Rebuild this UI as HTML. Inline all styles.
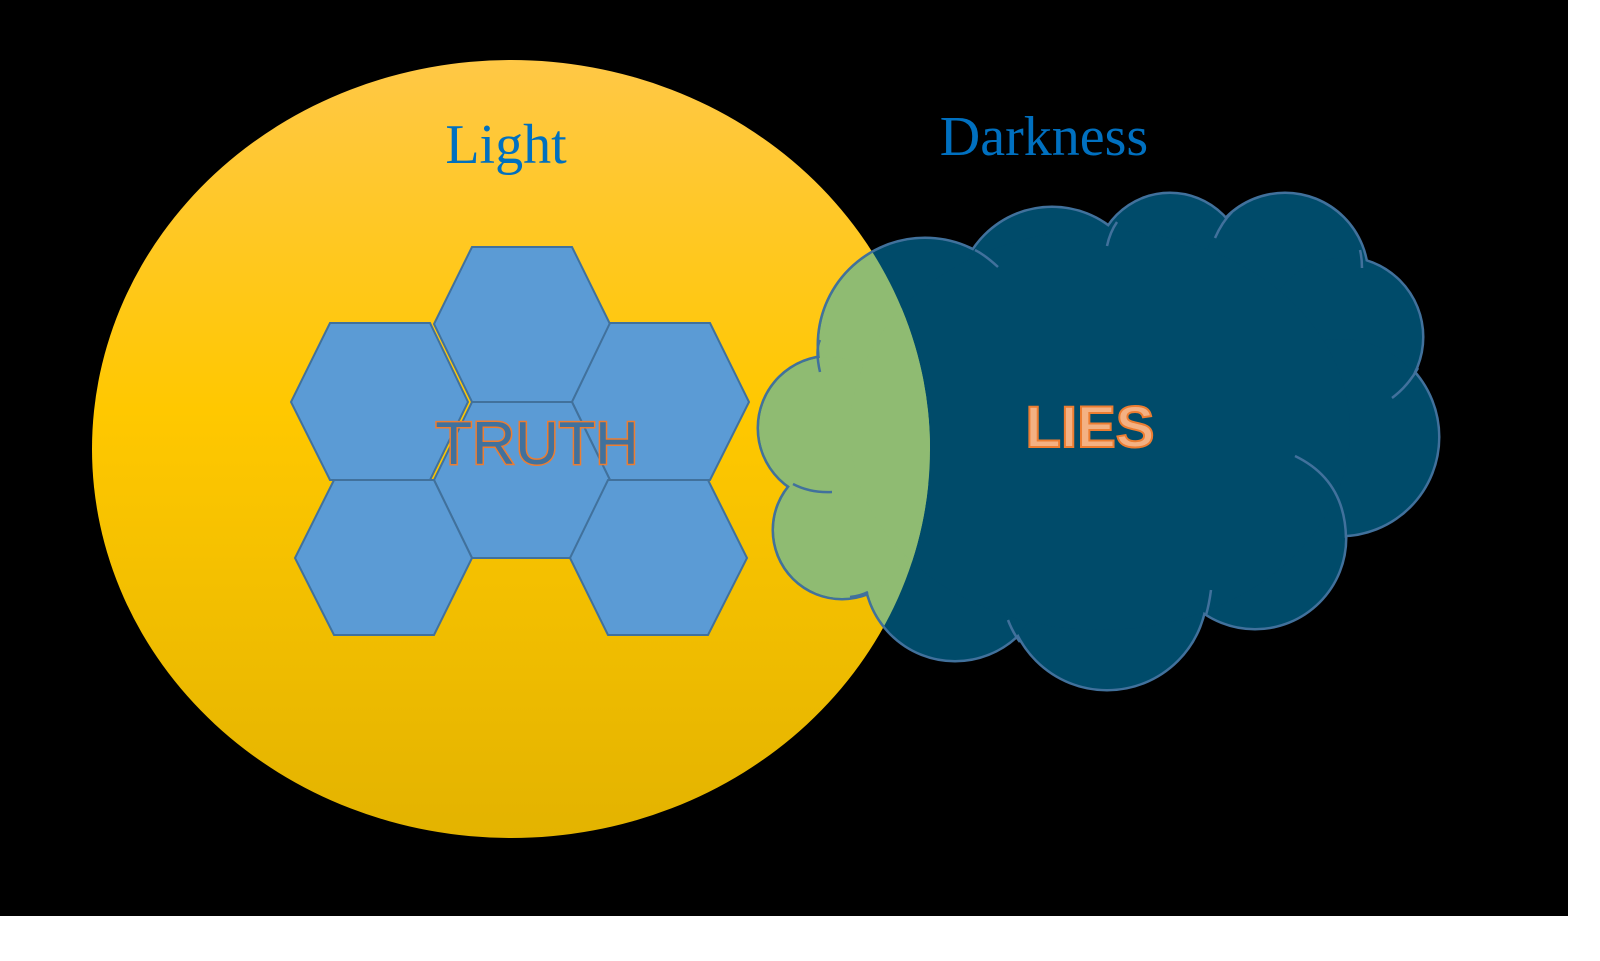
<!DOCTYPE html>
<html><head><style>
html,body{margin:0;padding:0;background:#fff;width:1600px;height:961px;overflow:hidden}
</style></head><body>
<svg width="1600" height="961" viewBox="0 0 1600 961" xmlns="http://www.w3.org/2000/svg">
<defs>
<linearGradient id="g" x1="0" y1="0" x2="0" y2="1">
<stop offset="0" stop-color="#ffc846"/>
<stop offset="0.45" stop-color="#ffc800"/>
<stop offset="1" stop-color="#e3b300"/>
</linearGradient>
<clipPath id="ell"><ellipse cx="511" cy="449" rx="419" ry="389"/></clipPath>
<g id="cl">
<circle cx="925" cy="345" r="106"/>
<circle cx="1052" cy="302" r="94"/>
<circle cx="1170" cy="268" r="74"/>
<circle cx="1285" cy="276" r="82"/>
<circle cx="1343" cy="337" r="79"/>
<circle cx="1340" cy="437" r="98"/>
<circle cx="1255" cy="538" r="90"/>
<circle cx="1107" cy="590" r="99"/>
<circle cx="955" cy="570" r="90"/>
<circle cx="842" cy="530" r="68"/>
<circle cx="830" cy="428" r="71"/>
<ellipse cx="1100" cy="430" rx="250" ry="200"/>
</g>
</defs>
<rect x="0" y="0" width="1568" height="916" fill="#000"/>
<ellipse cx="511" cy="449" rx="419" ry="389" fill="url(#g)"/>
<use href="#cl" fill="none" stroke="#41719c" stroke-width="5"/>
<use href="#cl" fill="#004b6a"/>
<use href="#cl" fill="#8fbb72" clip-path="url(#ell)"/>
<g fill="none" stroke="#41719c" stroke-width="2.5">
<path d="M820 372 Q815 350 820 340"/>
<path d="M998 267 Q985 255 975 250"/>
<path d="M1107 246 Q1110 232 1117 222"/>
<path d="M1215 238 Q1222 222 1232 212"/>
<path d="M1362 268 Q1362 258 1360 250"/>
<path d="M1392 398 Q1408 386 1418 368"/>
<path d="M1295 456 Q1345 480 1346 538"/>
<path d="M1211 590 Q1209 605 1206 615"/>
<path d="M1008 620 Q1013 633 1020 642"/>
<path d="M850 597 Q860 596 868 592"/>
<path d="M832 492 Q810 493 793 484"/>
</g>
<g fill="#5b9bd5" stroke="#41719c" stroke-width="2">
<polygon points="472,247 572,247 610,324 572,402 472,402 434,324"/>
<polygon points="330,323 430,323 468,402 430,480 330,480 291,402"/>
<polygon points="610,323 710,323 749,402 710,480 610,480 572,402"/>
<polygon points="472,402 572,402 610,480 572,558 472,558 434,480"/>
<polygon points="334,480 434,480 472,558 434,635 334,635 295,558"/>
<polygon points="608,480 708,480 747,558 708,635 608,635 570,558"/>
</g>
<text x="537" y="464" text-anchor="middle" font-family="Liberation Sans, sans-serif" font-size="60" fill="#41719c" stroke="#ed7d31" stroke-width="3" paint-order="stroke">TRUTH</text>
<text x="1090" y="447" text-anchor="middle" font-family="Liberation Sans, sans-serif" font-weight="bold" font-size="58" fill="#f4b183" stroke="#ed7d31" stroke-width="2">LIES</text>
<text x="506" y="163" text-anchor="middle" font-family="Liberation Serif, serif" font-size="56" fill="#0070c0">Light</text>
<text x="1044" y="155" text-anchor="middle" font-family="Liberation Serif, serif" font-size="56" fill="#0070c0">Darkness</text>
</svg>
</body></html>
